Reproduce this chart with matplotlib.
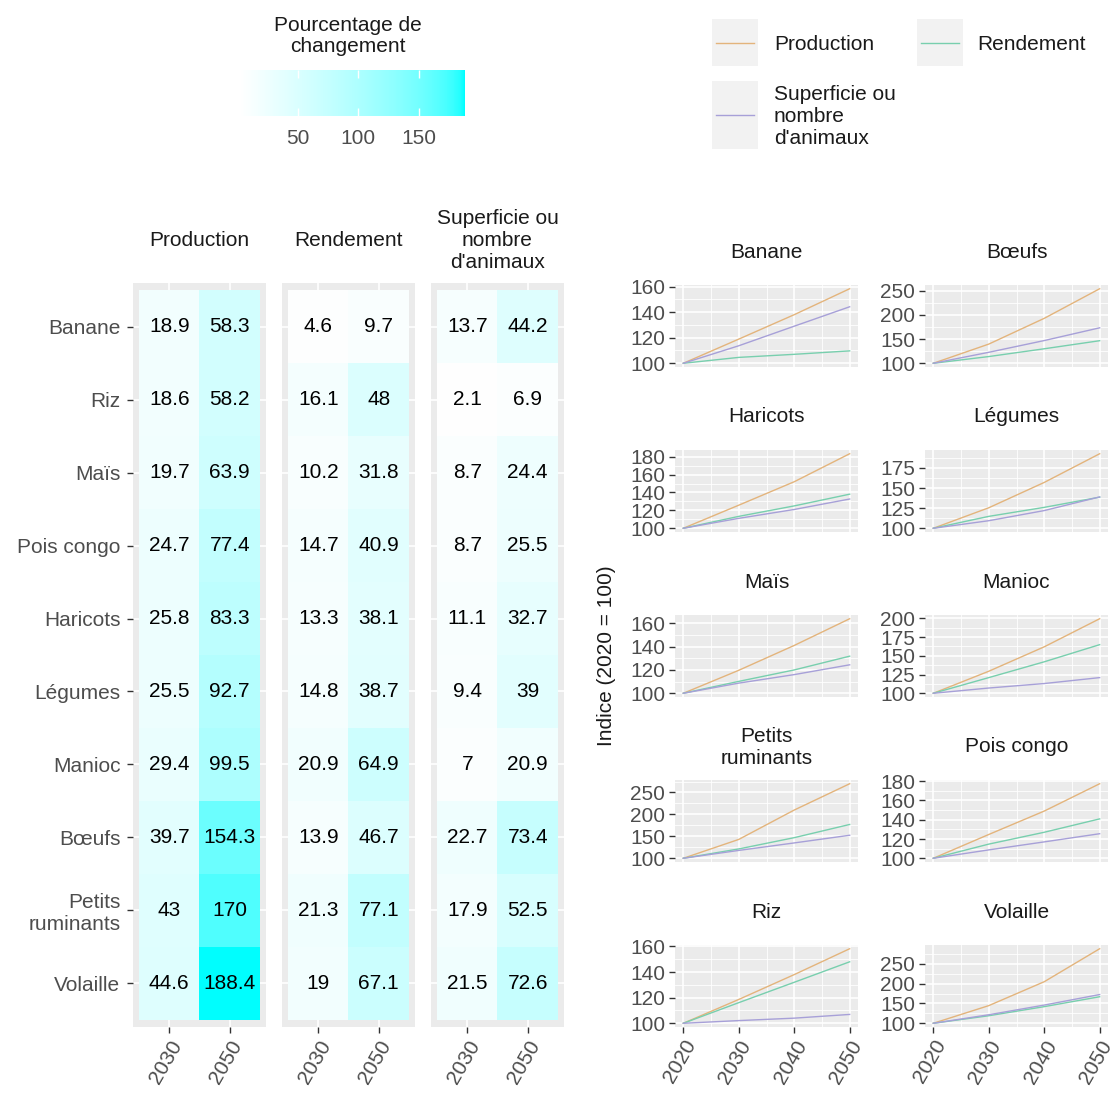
import numpy as np
import matplotlib
matplotlib.use('Agg')
import matplotlib.pyplot as plt
from matplotlib.colors import ListedColormap, Normalize, to_rgb
from matplotlib.cm import ScalarMappable
from matplotlib.lines import Line2D
from matplotlib.patches import Rectangle
from matplotlib.ticker import MultipleLocator

plt.rcParams['font.family'] = ['Liberation Sans', 'DejaVu Sans']

# ---------------- data ----------------
heat_rows = ['Banane', 'Riz', 'Maïs', 'Pois congo', 'Haricots', 'Légumes', 'Manioc',
             'Bœufs', 'Petits\nruminants', 'Volaille']
heat_years = ['2030', '2050']
heat_vars = ['Production', 'Rendement', "Superficie ou\nnombre\nd'animaux"]
prod_pct = [[18.9, 58.3], [18.6, 58.2], [19.7, 63.9], [24.7, 77.4], [25.8, 83.3],
            [25.5, 92.7], [29.4, 99.5], [39.7, 154.3], [43, 170], [44.6, 188.4]]
rend_pct = [[4.6, 9.7], [16.1, 48], [10.2, 31.8], [14.7, 40.9], [13.3, 38.1],
            [14.8, 38.7], [20.9, 64.9], [13.9, 46.7], [21.3, 77.1], [19, 67.1]]
sup_pct = [[13.7, 44.2], [2.1, 6.9], [8.7, 24.4], [8.7, 25.5], [11.1, 32.7],
           [9.4, 39], [7, 20.9], [22.7, 73.4], [17.9, 52.5], [21.5, 72.6]]

line_crops = ['Banane', 'Bœufs', 'Haricots', 'Légumes', 'Maïs', 'Manioc',
              'Petits\nruminants', 'Pois congo', 'Riz', 'Volaille']
line_years = [2020, 2030, 2040, 2050]
prod_index = [[100, 118.9, 138, 158.3], [100, 139.7, 193, 254.3], [100, 125.8, 152, 183.3],
              [100, 125.5, 157, 192.7], [100, 119.7, 141, 163.9], [100, 129.4, 162, 199.5],
              [100, 143, 210, 270], [100, 124.7, 149, 177.4], [100, 118.6, 138, 158.2],
              [100, 144.6, 205, 288.4]]
rend_index = [[100, 104.6, 107, 109.7], [100, 113.9, 130, 146.7], [100, 113.3, 125, 138.1],
              [100, 114.8, 126, 138.7], [100, 110.2, 120, 131.8], [100, 120.9, 142, 164.9],
              [100, 121.3, 147, 177.1], [100, 114.7, 127, 140.9], [100, 116.1, 132, 148],
              [100, 119, 142, 167.1]]
sup_index = [[100, 113.7, 129, 144.2], [100, 122.7, 147, 173.4], [100, 111.1, 121, 132.7],
             [100, 109.4, 122, 139], [100, 108.7, 116, 124.4], [100, 107, 113, 120.9],
             [100, 117.9, 135, 152.5], [100, 108.7, 117, 125.5], [100, 102.1, 104, 106.9],
             [100, 121.5, 146, 172.6]]
y_steps = [20, 50, 20, 25, 20, 25, 50, 20, 20, 50]
series_names = ['Production', 'Rendement', "Superficie ou\nnombre\nd'animaux"]
series_colors = ['#E3B47C', '#78CFAE', '#A7A0D8']
fill_low, fill_high = '#FFFFFF', '#00FFFF'

# ---------------- Lab gradient (like ggplot scale_fill_gradient) ----------------
WP = np.array([0.95047, 1.0, 1.08883])
M = np.array([[0.4124, 0.3576, 0.1805], [0.2126, 0.7152, 0.0722], [0.0193, 0.1192, 0.9505]])
Minv = np.linalg.inv(M)


def rgb2lab(c):
    c = np.array(to_rgb(c))
    lin = np.where(c <= 0.04045, c / 12.92, ((c + 0.055) / 1.055) ** 2.4)
    xyz = M @ lin / WP
    f = np.where(xyz > (6 / 29) ** 3, np.cbrt(xyz), xyz / (3 * (6 / 29) ** 2) + 4 / 29)
    return np.array([116 * f[1] - 16, 500 * (f[0] - f[1]), 200 * (f[1] - f[2])])


def lab2rgb(lab):
    L, a, b = lab
    fy_ = (L + 16) / 116
    f = np.array([fy_ + a / 500, fy_, fy_ - b / 200])
    xyz = np.where(f > 6 / 29, f ** 3, 3 * (6 / 29) ** 2 * (f - 4 / 29)) * WP
    lin = np.clip(Minv @ xyz, 0, 1)
    c = np.where(lin <= 0.0031308, 12.92 * lin, 1.055 * lin ** (1 / 2.4) - 0.055)
    return np.clip(c, 0, 1)


l0, l1 = rgb2lab(fill_low), rgb2lab(fill_high)
cmap = ListedColormap([lab2rgb(l0 + (l1 - l0) * t) for t in np.linspace(0, 1, 256)])

# ---------------- figure ----------------
W, H = 1116, 1093
fig = plt.figure(figsize=(W / 100, H / 100), dpi=100)


def ax_px(x0, y0, x1, y1, **kw):
    return fig.add_axes([x0 / W, 1 - y1 / H, (x1 - x0) / W, (y1 - y0) / H], **kw)


def fx(x):
    return x / W


def fy(y):
    return 1 - y / H


TXT = '#1A1A1A'
TICKC = '#4D4D4D'
TICKM = '#333333'
FS = 15
LS = 1.2

# ---------------- heatmap ----------------
allv = np.concatenate([np.ravel(prod_pct), np.ravel(rend_pct), np.ravel(sup_pct)])
norm = Normalize(vmin=allv.min(), vmax=allv.max())
panel_x = [(133, 266), (282, 415), (431, 564)]
nr = len(heat_rows)
for k, vals in enumerate([prod_pct, rend_pct, sup_pct]):
    x0, x1 = panel_x[k]
    ax = ax_px(x0, 283, x1, 1027)
    ax.set_facecolor('#EBEBEB')
    arr = np.array(vals, dtype=float)
    ax.imshow(arr, cmap=cmap, norm=norm, extent=(-0.5, 1.5, nr - 0.5, -0.5),
              aspect='auto', interpolation='nearest', zorder=2)
    ax.set_xlim(-0.6, 1.6)
    ax.set_ylim(nr - 0.4, -0.6)
    ax.set_axisbelow(True)
    ax.grid(True, color='white', lw=1.2)
    for i in range(nr):
        for j in range(2):
            ax.text(j, i, f'{arr[i, j]:g}', ha='center', va='center', fontsize=FS,
                    color='black', zorder=3)
    ax.set_xticks(range(2))
    ax.set_xticklabels(heat_years, rotation=60, ha='right', va='top',
                       rotation_mode='anchor')
    ax.set_yticks(range(nr))
    ax.tick_params(labelsize=FS, labelcolor=TICKC, color=TICKM, length=4, width=1, pad=3)
    ax.tick_params(axis='y', pad=5)
    if k == 0:
        ax.set_yticklabels(heat_rows, linespacing=LS)
    else:
        ax.set_yticklabels([])
        ax.tick_params(axis='y', length=0)
    for s in ax.spines.values():
        s.set_visible(False)
    fig.text(fx((x0 + x1) / 2), fy(241), heat_vars[k], ha='center', va='center',
             fontsize=FS, color=TXT, linespacing=LS)

# colorbar
cax = ax_px(240, 70, 465, 116)
sm = ScalarMappable(norm=norm, cmap=cmap)
cb = fig.colorbar(sm, cax=cax, orientation='horizontal', ticks=[50, 100, 150])
cb.outline.set_visible(False)
cax.tick_params(axis='x', direction='in', color='white', length=6, width=1,
                labelsize=FS, labelcolor=TICKC, pad=9, top=True)
fig.text(fx(348), fy(36), 'Pourcentage de\nchangement', ha='center', va='center',
         fontsize=FS, color=TXT, linespacing=1.1)

# ---------------- small multiples ----------------
col_x = [(675, 858), (925, 1108)]
row_bottom = [367, 532, 697, 862, 1027]
ph = 82
for idx, crop in enumerate(line_crops):
    r, c = divmod(idx, 2)
    x0, x1 = col_x[c]
    yb = row_bottom[r]
    ax = ax_px(x0, yb - ph, x1, yb)
    ax.set_facecolor('#EBEBEB')
    for vals, col in zip([prod_index[idx], rend_index[idx], sup_index[idx]], series_colors):
        ax.plot(line_years, vals, color=col, lw=1.0, zorder=3)
    lo = min(min(prod_index[idx]), min(rend_index[idx]), min(sup_index[idx]))
    hi = max(max(prod_index[idx]), max(rend_index[idx]), max(sup_index[idx]))
    pad = 0.05 * (hi - lo)
    ax.set_ylim(lo - pad, hi + pad)
    ax.set_xlim(2020 - 1.5, 2050 + 1.5)
    st = y_steps[idx]
    ax.yaxis.set_major_locator(MultipleLocator(st))
    ax.yaxis.set_minor_locator(MultipleLocator(st / 2))
    ax.xaxis.set_major_locator(MultipleLocator(10))
    ax.xaxis.set_minor_locator(MultipleLocator(5))
    ax.set_axisbelow(True)
    ax.grid(True, which='major', color='white', lw=1.2)
    ax.grid(True, which='minor', color='white', lw=0.6)
    for s in ax.spines.values():
        s.set_visible(False)
    ax.tick_params(which='minor', length=0)
    ax.tick_params(which='major', labelsize=FS, labelcolor=TICKC, color=TICKM,
                   length=4, width=1, pad=3)
    if r == 4:
        ax.set_xticks([2020, 2030, 2040, 2050])
        for lab in ax.get_xticklabels():
            lab.set_rotation(60)
            lab.set_ha('right')
            lab.set_va('top')
            lab.set_rotation_mode('anchor')
    else:
        ax.tick_params(axis='x', which='both', labelbottom=False, length=0)
    fig.text(fx((x0 + x1) / 2), fy(yb - ph - 33), crop, ha='center', va='center',
             fontsize=FS, color=TXT, linespacing=LS)

fig.text(fx(607), fy(656), 'Indice (2020 = 100)', rotation=90, ha='center', va='center',
         fontsize=FS, color=TXT)

# ---------------- line legend ----------------
key_boxes = [(712, 19, 758, 66), (917, 19, 963, 66), (712, 81, 758, 149)]
label_x = [774, 977, 774]
for (x0, y0, x1, y1), lx, name, col in zip(key_boxes, label_x, series_names, series_colors):
    fig.patches.append(Rectangle((fx(x0), fy(y1)), fx(x1) - fx(x0), fy(y0) - fy(y1),
                                 transform=fig.transFigure, facecolor='#F2F2F2',
                                 edgecolor='none'))
    ym = (y0 + y1) / 2
    fig.lines.append(Line2D([fx(x0 + 4), fx(x1 - 4)], [fy(ym), fy(ym)],
                            transform=fig.transFigure, color=col, lw=1.0))
    fig.text(fx(lx), fy(ym + 2), name, ha='left', va='center', fontsize=FS, color=TXT,
             linespacing=LS)

fig.savefig('out.png', dpi=100, facecolor='white')
